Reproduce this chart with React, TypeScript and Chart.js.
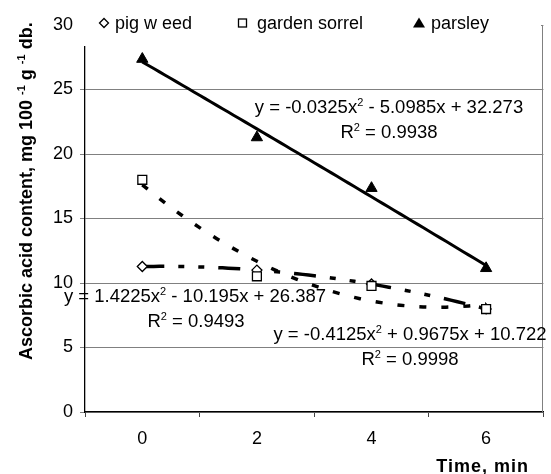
import React, { useEffect, useRef } from 'react';
import { Chart, registerables } from 'chart.js';

Chart.register(...registerables);

// ---- data ----
const timeLabels = ['0', '2', '4', '6'];
const categoryIndex = [1, 2, 3, 4];
const pigWeed = [11.28, 11.0, 9.92, 7.99];
const gardenSorrel = [18.0, 10.52, 9.77, 7.98];
const parsley = [27.36, 21.28, 17.35, 11.14];
// polynomial trendline coefficients shown on the chart (a x^2 + b x + c)
const pigWeedCoef = [-0.4125, 0.9675, 10.722];
const gardenSorrelCoef = [1.4225, -10.195, 26.387];
const parsleyCoef = [-0.0325, -5.0985, 32.273];
const seriesNames = ['pig w eed', 'garden sorrel', 'parsley'];
const yTickValues = [0, 5, 10, 15, 20, 25, 30];
const equationTexts = [
  ['y = -0.0325x', '2', ' - 5.0985x + 32.273', 'R', '2', ' = 0.9938'],
  ['y = 1.4225x', '2', ' - 10.195x + 26.387', 'R', '2', ' = 0.9493'],
  ['y = -0.4125x', '2', ' + 0.9675x + 10.722', 'R', '2', ' = 0.9998'],
];
const yTitle = ['Ascorbic acid content, mg 100 ', '-1', ' g ', '-1', ' db.'];
const xTitle = 'Time, min';

const FONT = '"Liberation Sans", Arial, Helvetica, sans-serif';

function trendPoints(coef: number[]) {
  const pts: { x: number; y: number }[] = [];
  const x0 = categoryIndex[0];
  const x1 = categoryIndex[categoryIndex.length - 1];
  const n = 60;
  for (let i = 0; i <= n; i++) {
    const x = x0 + ((x1 - x0) * i) / n;
    pts.push({ x, y: coef[0] * x * x + coef[1] * x + coef[2] });
  }
  return pts;
}

type Part = { t: string; sup?: boolean };

function drawRich(
  ctx: CanvasRenderingContext2D,
  parts: Part[],
  x: number,
  y: number,
  align: 'left' | 'center' | 'right',
  size: number,
  bold = false
) {
  const main = `${bold ? 'bold ' : ''}${size}px ${FONT}`;
  const sup = `${bold ? 'bold ' : ''}${Math.round(size * 0.62)}px ${FONT}`;
  let total = 0;
  const widths = parts.map((p) => {
    ctx.font = p.sup ? sup : main;
    const w = ctx.measureText(p.t).width;
    total += w;
    return w;
  });
  let cx = align === 'center' ? x - total / 2 : align === 'right' ? x - total : x;
  ctx.textAlign = 'left';
  ctx.textBaseline = 'alphabetic';
  parts.forEach((p, i) => {
    ctx.font = p.sup ? sup : main;
    ctx.fillText(p.t, cx, p.sup ? y - size * 0.4 : y);
    cx += widths[i];
  });
}

const overlayPlugin = {
  id: 'overlay',
  afterDraw(chart: any) {
    const ctx: CanvasRenderingContext2D = chart.ctx;
    const ca = chart.chartArea;
    ctx.save();
    // right border of plot area
    ctx.strokeStyle = '#808080';
    ctx.lineWidth = 1;
    ctx.beginPath();
    ctx.moveTo(Math.round(ca.right) - 0.5, ca.top);
    ctx.lineTo(Math.round(ca.right) - 0.5, ca.bottom);
    ctx.stroke();

    // legend box
    ctx.fillStyle = '#ffffff';
    ctx.fillRect(78, 0, 463, 46);
    ctx.fillStyle = '#000';
    ctx.strokeStyle = '#000';
    ctx.lineWidth = 1.3;
    // diamond
    const dy = 23;
    ctx.beginPath();
    ctx.moveTo(99.5, dy);
    ctx.lineTo(104, dy - 4.5);
    ctx.lineTo(108.5, dy);
    ctx.lineTo(104, dy + 4.5);
    ctx.closePath();
    ctx.stroke();
    // square
    ctx.strokeRect(238.5, dy - 4, 8, 8);
    // triangle
    ctx.beginPath();
    ctx.moveTo(419, dy - 5.5);
    ctx.lineTo(425, dy + 4.5);
    ctx.lineTo(413, dy + 4.5);
    ctx.closePath();
    ctx.fill();
    ctx.font = `18px ${FONT}`;
    ctx.textAlign = 'left';
    ctx.textBaseline = 'alphabetic';
    ctx.fillText(seriesNames[0], 115, 29);
    ctx.fillText(seriesNames[1], 257, 29);
    ctx.fillText(seriesNames[2], 431, 29);

    // equations
    const eqPos = [
      [389, 113, 389, 138],
      [195, 302, 196, 327],
      [410, 340, 410, 365],
    ];
    equationTexts.forEach((e, i) => {
      const p = eqPos[i];
      drawRich(ctx, [{ t: e[0] }, { t: e[1], sup: true }, { t: e[2] }], p[0], p[1], 'center', 18.5);
      drawRich(ctx, [{ t: e[3] }, { t: e[4], sup: true }, { t: e[5] }], p[2], p[3], 'center', 18.5);
    });

    // y title
    ctx.save();
    ctx.translate(32, 360);
    ctx.rotate(-Math.PI / 2);
    drawRich(
      ctx,
      yTitle.map((t, i) => ({ t, sup: i === 1 || i === 3 })),
      0,
      0,
      'left',
      18,
      true
    );
    ctx.restore();

    // x title
    ctx.font = `bold 18px ${FONT}`;
    (ctx as any).letterSpacing = '1px';
    ctx.textAlign = 'right';
    ctx.textBaseline = 'alphabetic';
    ctx.fillText(xTitle, 529, 472);
    (ctx as any).letterSpacing = '0px';
    ctx.restore();
  },
};

export default function App() {
  const ref = useRef<HTMLCanvasElement>(null);

  useEffect(() => {
    if (!ref.current) return;
    const toPts = (vals: number[]) => vals.map((v, i) => ({ x: categoryIndex[i], y: v }));
    const chart = new Chart(ref.current, {
      type: 'scatter',
      data: {
        datasets: [
          {
            label: seriesNames[2],
            data: toPts(parsley),
            pointStyle: 'triangle',
            pointRadius: 6.5,
            pointBackgroundColor: '#000',
            pointBorderColor: '#000',
            pointBorderWidth: 1,
            showLine: false,
          },
          {
            label: seriesNames[1],
            data: toPts(gardenSorrel),
            pointStyle: 'rect',
            pointRadius: 6.3,
            pointBackgroundColor: '#fff',
            pointBorderColor: '#000',
            pointBorderWidth: 1.3,
            showLine: false,
          },
          {
            label: seriesNames[0],
            data: toPts(pigWeed),
            pointStyle: 'rectRot',
            pointRadius: 5,
            pointBackgroundColor: '#fff',
            pointBorderColor: '#000',
            pointBorderWidth: 1.3,
            showLine: false,
          },
          {
            label: 'parsley trend',
            data: trendPoints(parsleyCoef),
            showLine: true,
            pointRadius: 0,
            borderColor: '#000',
            borderWidth: 3,
          },
          {
            label: 'garden sorrel trend',
            data: trendPoints(gardenSorrelCoef),
            showLine: true,
            pointRadius: 0,
            borderColor: '#000',
            borderWidth: 3.5,
            borderDash: [7, 15],
          },
          {
            label: 'pig weed trend',
            data: trendPoints(pigWeedCoef),
            showLine: true,
            pointRadius: 0,
            borderColor: '#000',
            borderWidth: 3.5,
            borderDash: [22, 14, 6, 14, 6, 14],
          },
        ],
      },
      options: {
        animation: false,
        responsive: true,
        maintainAspectRatio: false,
        layout: { padding: { top: 25, right: 1, left: 0, bottom: 0 } },
        plugins: { legend: { display: false }, tooltip: { enabled: false } },
        scales: {
          x: {
            type: 'linear',
            min: 0.5,
            max: 4.5,
            afterBuildTicks: (axis: any) => {
              axis.ticks = categoryIndex.map((v) => ({ value: v }));
            },
            afterFit: (scale: any) => {
              scale.height = 62;
            },
            ticks: {
              callback: (v: any) => timeLabels[categoryIndex.indexOf(Number(v))] ?? '',
              font: { family: FONT, size: 18 },
              color: '#000',
              padding: 11,
              maxRotation: 0,
              autoSkip: false,
            },
            grid: {
              offset: true,
              drawOnChartArea: false,
              drawTicks: true,
              tickLength: 5,
              tickColor: '#444',
            },
            border: { display: true, color: '#000', width: 1.3 },
          },
          y: {
            type: 'linear',
            min: 0,
            max: 30,
            afterBuildTicks: (axis: any) => {
              axis.ticks = yTickValues.map((v) => ({ value: v }));
            },
            afterFit: (scale: any) => {
              scale.width = 85;
            },
            ticks: {
              font: { family: FONT, size: 18 },
              color: '#000',
              padding: 7,
            },
            grid: {
              color: '#808080',
              lineWidth: 1,
              tickLength: 5,
              tickColor: '#808080',
            },
            border: { display: true, color: '#000', width: 1.3 },
          },
        },
      },
      plugins: [overlayPlugin],
    });
    return () => chart.destroy();
  }, []);

  return (
    <div style={{ position: 'absolute', left: 0, top: 0, width: 551, height: 474, background: '#fff' }}>
      <canvas ref={ref} />
    </div>
  );
}
